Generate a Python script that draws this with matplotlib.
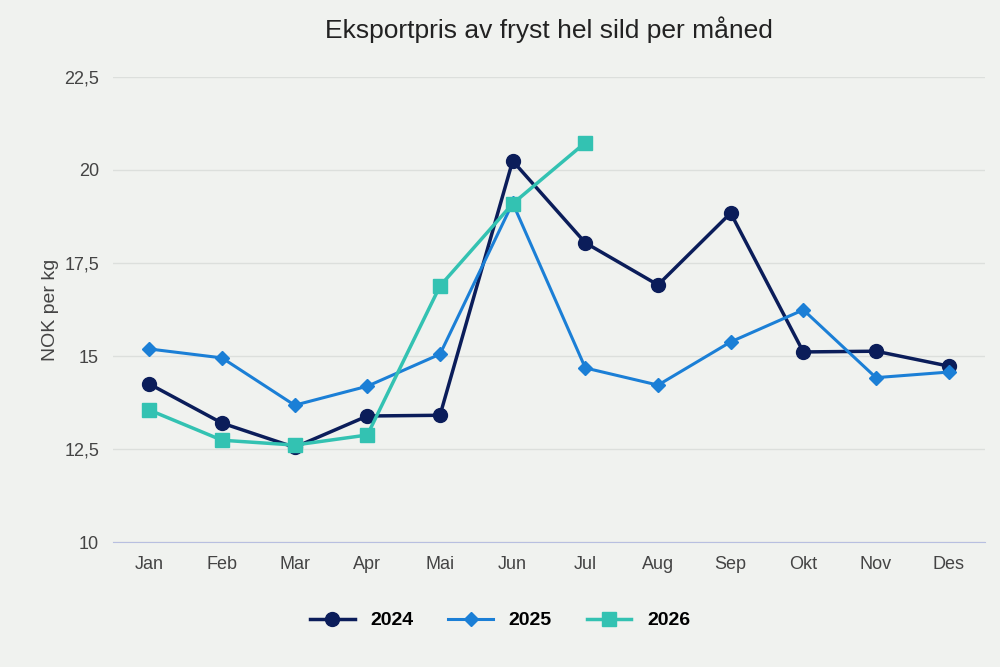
import matplotlib.pyplot as plt
import matplotlib.ticker as mticker

plt.rcParams["font.family"] = ["Liberation Sans", "DejaVu Sans"]

months = ["Jan", "Feb", "Mar", "Apr", "Mai", "Jun", "Jul", "Aug", "Sep", "Okt", "Nov", "Des"]
pris_2024 = [14.25, 13.2, 12.55, 13.39, 13.41, 20.24, 18.04, 16.91, 18.84, 15.11, 15.13, 14.73]
pris_2025 = [15.19, 14.95, 13.68, 14.19, 15.05, 19.11, 14.68, 14.22, 15.38, 16.24, 14.42, 14.57]
pris_2026 = [13.55, 12.74, 12.61, 12.88, 16.88, 19.09, 20.73]

bg = "#f0f2ef"
fig, ax = plt.subplots(figsize=(10, 6.67), dpi=100)
fig.patch.set_facecolor(bg)
ax.set_facecolor(bg)
fig.subplots_adjust(left=0.113, right=0.985, top=0.885, bottom=0.187)

x = list(range(len(months)))
ax.plot(x, pris_2024, color="#0b1d5a", marker="o", markersize=10, lw=2.5, label="2024", zorder=3)
ax.plot(x, pris_2025, color="#1b7fd6", marker="D", markersize=7, lw=2.2, label="2025", zorder=3)
ax.plot(x[:len(pris_2026)], pris_2026, color="#33c2b2", marker="s", markersize=10, lw=2.5, label="2026", zorder=3)

ax.set_ylim(10, 22.5)
ax.set_xlim(-0.5, 11.5)
ax.set_yticks([10, 12.5, 15, 17.5, 20, 22.5])
ax.yaxis.set_major_formatter(mticker.FuncFormatter(lambda v, p: f"{v:g}".replace(".", ",")))
ax.set_xticks(x)
ax.set_xticklabels(months)
ax.grid(axis="y", color="#dcdfdc", lw=1)
ax.tick_params(length=0, labelsize=13, colors="#444444", pad=10)
for s in ["top", "right", "left"]:
    ax.spines[s].set_visible(False)
ax.spines["bottom"].set_color("#b8bfe0")
ax.set_ylabel("NOK per kg", fontsize=14, color="#444444")
ax.set_title("Eksportpris av fryst hel sild per måned", fontsize=19, color="#222222", pad=28)

leg = fig.legend(loc="lower center", ncol=3, frameon=False, bbox_to_anchor=(0.5, 0.03),
                 prop={"weight": "bold", "size": 14}, handlelength=2.3, columnspacing=1.8)
plt.savefig("out.png", facecolor=bg)
